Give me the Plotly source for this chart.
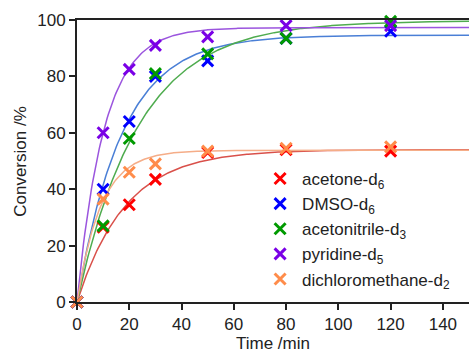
import numpy as np
import plotly.graph_objects as go

# Measured data (time in min, conversion in %)
time = [0, 10, 20, 30, 50, 80, 120]
acetone = [0, 26.5, 34.5, 43.5, 53, 54, 53.5]
dmso = [0, 40, 64, 80, 85.5, 93.5, 96]
acetonitrile = [0, 27, 58, 81, 88, 93.5, 99.5]
pyridine = [0, 60, 82.5, 91, 94, 98, 98]
dcm = [0, 36.5, 46, 49, 53.5, 54.5, 55]

names = ["acetone-d<sub>6</sub>", "DMSO-d<sub>6</sub>", "acetonitrile-d<sub>3</sub>",
         "pyridine-d<sub>5</sub>", "dichloromethane-d<sub>2</sub>"]
series = [acetone, dmso, acetonitrile, pyridine, dcm]

# First-order fit parameters (plateau %, rate constant 1/min)
fit_plateau = [54, 94.6, 99.7, 97.3, 53.8]
fit_rate = [0.054, 0.058, 0.042, 0.096, 0.11]

marker_colors = ["#ff0000", "#0000ff", "#009a00", "#7a00e6", "#ff8c4a"]
line_colors = ["#d9504a", "#4a7fd6", "#4fac4f", "#9b55de", "#f5ad88"]

fig = go.Figure()
t_fit = np.linspace(0, 150, 301)
for plateau, k, lc in zip(fit_plateau, fit_rate, line_colors):
    fig.add_trace(go.Scatter(x=t_fit, y=plateau * (1 - np.exp(-k * t_fit)),
                             mode="lines", line=dict(color=lc, width=1.5),
                             showlegend=False, hoverinfo="skip"))
for name, ys, mc in zip(names, series, marker_colors):
    fig.add_trace(go.Scatter(x=time, y=ys, mode="markers", name=name,
                             marker=dict(symbol="x-thin", size=11,
                                         line=dict(color=mc, width=3), color=mc),
                             cliponaxis=False))

font = "Liberation Sans, Arial, sans-serif"
fig.update_layout(
    width=469, height=349,
    margin=dict(l=77, r=0, t=20, b=47),
    paper_bgcolor="white", plot_bgcolor="white",
    font=dict(family=font, size=17, color="#222"),
    legend=dict(x=0.462, y=0.5, xanchor="left", yanchor="top",
                bgcolor="rgba(0,0,0,0)", font=dict(size=17),
                itemwidth=34, tracegroupgap=0),
    xaxis=dict(range=[0, 150], tickvals=[0, 20, 40, 60, 80, 100, 120, 140],
               ticks="outside", ticklen=6, tickwidth=1.5, tickcolor="#222",
               showline=True, linecolor="#222", linewidth=2, mirror=True,
               showgrid=False, zeroline=False, automargin=False),
    yaxis=dict(range=[0, 100], tickvals=[0, 20, 40, 60, 80, 100],
               ticks="outside", ticklen=6, tickwidth=1.5, tickcolor="#222",
               showline=True, linecolor="#222", linewidth=2,
               showgrid=False, zeroline=False, automargin=False),
    annotations=[
        dict(text="Time /min", xref="paper", yref="paper", x=0.5, y=-0.147,
             xanchor="center", yanchor="middle", showarrow=False,
             font=dict(size=17)),
        dict(text="Conversion /%", xref="paper", yref="paper", x=-0.146, y=0.5,
             xanchor="center", yanchor="middle", showarrow=False, textangle=-90,
             font=dict(size=17)),
    ],
)
fig.write_html("out.html", config={"displayModeBar": False},
               post_script="document.body.style.margin='0px';")
